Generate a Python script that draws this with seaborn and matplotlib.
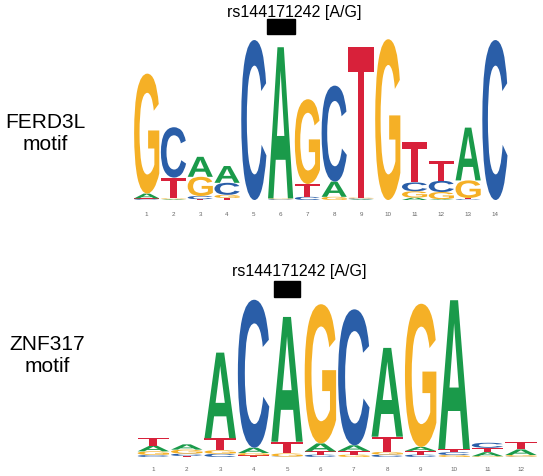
import matplotlib
matplotlib.use("Agg")
import numpy as np
import seaborn as sns
import matplotlib.pyplot as plt
from matplotlib.textpath import TextPath
from matplotlib.patches import PathPatch, Rectangle
from matplotlib.transforms import Affine2D
from matplotlib.font_manager import FontProperties

# letter heights (bits) per position
ferd3l_A = [0.06, 0.01, 0.25, 0.21, 0.00, 1.89, 0.00, 0.19, 0.01, 0.00, 0.03, 0.01, 0.66, 0.00]
ferd3l_C = [0.01, 0.63, 0.04, 0.15, 2.00, 0.01, 0.04, 1.20, 0.01, 0.00, 0.11, 0.14, 0.01, 2.00]
ferd3l_G = [1.50, 0.01, 0.24, 0.04, 0.00, 0.01, 1.06, 0.04, 0.01, 2.01, 0.08, 0.09, 0.22, 0.00]
ferd3l_T = [0.01, 0.26, 0.01, 0.025, 0.00, 0.00, 0.16, 0.00, 1.88, 0.00, 0.50, 0.25, 0.015, 0.00]

znf317_A = [0.07, 0.066, 1.07, 0.066, 1.56, 0.10, 0.07, 1.11, 0.05, 1.86, 0.05, 0.07]
znf317_C = [0.025, 0.03, 0.04, 1.85, 0.005, 0.03, 1.70, 0.03, 0.03, 0.035, 0.063, 0.005]
znf317_G = [0.046, 0.05, 0.045, 0.03, 0.04, 1.74, 0.03, 0.034, 1.79, 0.025, 0.01, 0.02]
znf317_T = [0.10, 0.012, 0.15, 0.02, 0.146, 0.04, 0.046, 0.19, 0.046, 0.04, 0.055, 0.096]

snp_label = "rs144171242 [A/G]"
colors = {"A": "#1a9a4a", "C": "#2a5ea8", "G": "#f5b026", "T": "#d8213a"}

sns.set_style("white")
plt.rcParams["font.family"] = ["Liberation Sans", "DejaVu Sans"]
plt.rcParams["text.color"] = "black"
letter_font = FontProperties(family="Liberation Sans", weight="bold")


def draw_letter(ax, ch, x, y, w, h):
    tp = TextPath((0, 0), ch, size=1, prop=letter_font)
    bb = tp.get_extents()
    t = (Affine2D().translate(-bb.x0, -bb.y0)
         .scale(w / bb.width, h / bb.height)
         .translate(x - w / 2, y))
    ax.add_patch(PathPatch(t.transform_path(tp), fc=colors[ch], ec="none"))


def draw_logo(ax, A, C, G, T, pad):
    n = len(A)
    for i in range(n):
        # smallest letter at the bottom, like a sequence logo
        stack = sorted(zip([A[i], C[i], G[i], T[i]], "ACGT"))
        y = 0
        for h, ch in stack:
            if h > 0:
                draw_letter(ax, ch, i + 1, y, 0.94, h)
                y += h
    ax.set_xlim(0.5, n + 0.5)
    ax.set_ylim(0, 2.05)
    ax.set_xticks(range(1, n + 1))
    ax.set_xticklabels([str(i) for i in range(1, n + 1)], fontsize=4.5, color="#666666")
    ax.set_yticks([])
    ax.tick_params(axis="x", length=0, pad=pad)
    sns.despine(ax=ax, left=True, bottom=True)


fig = plt.figure(figsize=(5.43, 4.76), dpi=100)

ax1 = fig.add_axes([0.2455, 0.5798, 0.6906, 0.3445])
draw_logo(ax1, ferd3l_A, ferd3l_C, ferd3l_G, ferd3l_T, pad=8.5)
ax1.add_patch(Rectangle((6 - 0.52, 2.075), 1.04, 0.19, color="black", clip_on=False))
ax1.text(6.5, 2.34, snp_label, ha="center", va="center", fontsize=11.5, clip_on=False)

ax2 = fig.add_axes([0.2516, 0.0399, 0.7385, 0.3445])
draw_logo(ax2, znf317_A, znf317_C, znf317_G, znf317_T, pad=7)
ax2.add_patch(Rectangle((5 - 0.4, 2.004), 0.8, 0.2, color="black", clip_on=False))
ax2.text(5.38, 2.32, snp_label, ha="center", va="center", fontsize=11.5, clip_on=False)

fig.text(45 / 543, 1 - 133 / 476, "FERD3L\nmotif", ha="center", va="center",
         fontsize=15, multialignment="center")
fig.text(47 / 543, 1 - 355 / 476, "ZNF317\nmotif", ha="center", va="center",
         fontsize=15, multialignment="center")

fig.savefig("out.png", dpi=100)
